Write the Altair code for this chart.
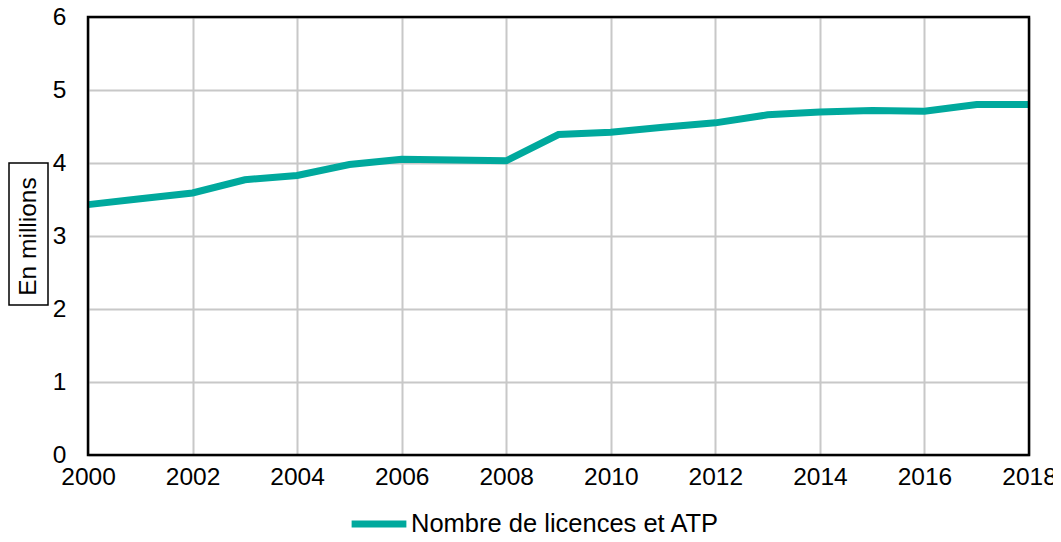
import altair as alt
import pandas as pd

years = list(range(2000, 2019))
values = [3.43, 3.51, 3.59, 3.77, 3.83, 3.98, 4.05, 4.04, 4.03, 4.39, 4.42,
          4.49, 4.55, 4.66, 4.70, 4.72, 4.71, 4.80, 4.80]
series_name = "Nombre de licences et ATP"
x_ticks = list(range(2000, 2019, 2))
y_ticks = [0, 1, 2, 3, 4, 5, 6]

df = pd.DataFrame({"annee": years, "valeur": values, "serie": [series_name] * len(years)})

FONT = "Liberation Sans"
FS = 24.5
W, H = 941, 438

line = alt.Chart(df).mark_line(strokeWidth=7, strokeCap="butt", strokeJoin="miter").encode(
    x=alt.X("annee:Q",
            scale=alt.Scale(domain=[2000, 2018], nice=False, zero=False),
            axis=alt.Axis(values=x_ticks, format="d", title=None, grid=True,
                          gridColor="#c8c8c8", gridWidth=2, domain=False, ticks=False,
                          labelFontSize=FS, labelColor="black", labelFont=FONT,
                          labelPadding=10, labelFlush=False)),
    y=alt.Y("valeur:Q",
            scale=alt.Scale(domain=[0, 6], nice=False),
            axis=alt.Axis(values=y_ticks, title="En millions", grid=True,
                          gridColor="#c8c8c8", gridWidth=2, domain=False, ticks=False,
                          labelFontSize=FS, labelColor="black", labelFont=FONT,
                          labelPadding=22, titleFontSize=FS, titleFont=FONT,
                          titleFontWeight="normal", titleColor="black",
                          titleX=-60, titleY=H / 2, titleBaseline="middle")),
    color=alt.Color("serie:N",
                    scale=alt.Scale(range=["#00a99d"]),
                    legend=alt.Legend(title=None, orient="none", legendX=260, legendY=476,
                                      symbolType="stroke", symbolSize=3000,
                                      symbolStrokeWidth=7, labelFontSize=25.5,
                                      labelFont=FONT, labelColor="black",
                                      labelOffset=1, padding=0, labelLimit=0)),
)

one = pd.DataFrame({"k": [0]})
box = alt.Chart(one).mark_rect(fill=None, stroke="black", strokeWidth=1.5).encode(
    x=alt.value(-79), x2=alt.value(-40), y=alt.value(146), y2=alt.value(288)
)
frame = alt.Chart(one).mark_rect(fill=None, stroke="black", strokeWidth=2.5).encode(
    x=alt.value(0), x2=alt.value(W), y=alt.value(0), y2=alt.value(H)
)

chart = alt.layer(line, frame, box).properties(
    width=W, height=H,
    autosize=alt.AutoSizeParams(type="none"),
    padding={"left": 80, "top": 9, "right": 24, "bottom": 79},
    background="white",
).configure_view(stroke=None)

chart.save("out.html", embed_options={"renderer": "svg", "actions": False})
